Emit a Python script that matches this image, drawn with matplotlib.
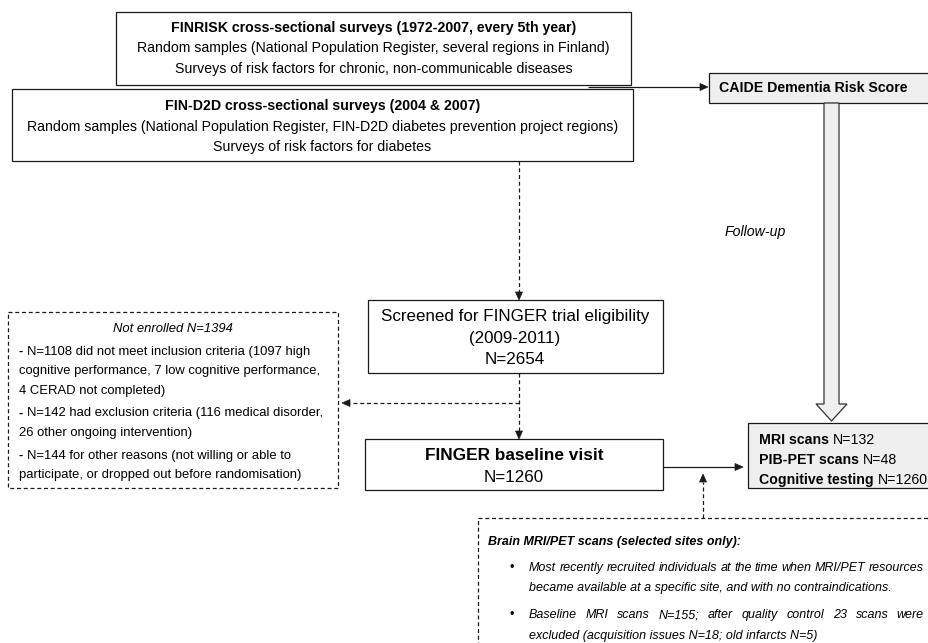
import matplotlib
matplotlib.use("Agg")
import matplotlib.pyplot as plt
from matplotlib.patches import Rectangle, Polygon

plt.rcParams['font.family'] = ['Liberation Sans', 'DejaVu Sans']

# ---------------- chart content ----------------
finrisk_title = "FINRISK cross-sectional surveys (1972-2007, every 5th year)"
finrisk_lines = ["Random samples (National Population Register, several regions in Finland)",
                 "Surveys of risk factors for chronic, non-communicable diseases"]
find2d_title = "FIN-D2D cross-sectional surveys (2004 & 2007)"
find2d_lines = ["Random samples (National Population Register, FIN-D2D diabetes prevention project regions)",
                "Surveys of risk factors for diabetes"]
caide_label = "CAIDE Dementia Risk Score"
followup_label = "Follow-up"
screened_lines = ["Screened for FINGER trial eligibility", "(2009-2011)", "N=2654"]
baseline_title = "FINGER baseline visit"
baseline_n = "N=1260"
not_enrolled_title = "Not enrolled N=1394"
not_enrolled_items = [
    ["N=1108 did not meet inclusion criteria (1097 high",
     "cognitive performance, 7 low cognitive performance,",
     "4 CERAD not completed)"],
    ["N=142 had exclusion criteria (116 medical disorder,",
     "26 other ongoing intervention)"],
    ["N=144 for other reasons (not willing or able to",
     "participate, or dropped out before randomisation)"],
]
outcome_labels = ["MRI scans", "PIB-PET scans", "Cognitive testing"]
outcome_n = [132, 48, 1260]
brain_title = "Brain MRI/PET scans (selected sites only):"
brain_items = [
    ["Most recently recruited individuals at the time when MRI/PET resources",
     "became available at a specific site, and with no contraindications."],
    ["Baseline MRI scans N=155; after quality control 23 scans were",
     "excluded (acquisition issues N=18; old infarcts N=5)"],
]

# ---------------- canvas (1 data unit = 1 pixel) ----------------
W, H = 929, 643
fig = plt.figure(figsize=(W / 100, H / 100), dpi=100)
ax = fig.add_axes([0, 0, 1, 1])
ax.set_xlim(0, W)
ax.set_ylim(H, 0)
ax.axis('off')
R = fig.canvas.get_renderer()

EDGE = '#1a1a1a'
FILL = '#efefef'
DASH = (0, (3.2, 2.2))
LW = 0.9


def width(t):
    return t.get_window_extent(renderer=R).width


def fit(strings, targets, **kw):
    if isinstance(strings, str):
        strings, targets = [strings], [targets]
    tot = 0
    for s in strings:
        t = ax.text(0, 0, s, fontsize=10, **kw)
        tot += width(t)
        t.remove()
    return 10 * sum(targets) / tot


def space(size, **kw):
    a = ax.text(0, 0, "x x", fontsize=size, **kw)
    b = ax.text(0, 0, "xx", fontsize=size, **kw)
    w = width(a) - width(b)
    a.remove(); b.remove()
    return w


def box(x0, y0, x1, y1, dashed=False, fill='white'):
    ax.add_patch(Rectangle((x0, y0), x1 - x0, y1 - y0, facecolor=fill,
                           edgecolor=EDGE, lw=LW,
                           linestyle=DASH if dashed else '-', zorder=2))


def line(xs, ys, dashed=False):
    ax.plot(xs, ys, color=EDGE, lw=LW, linestyle=DASH if dashed else '-',
            zorder=3, solid_capstyle='butt')


def head(x, y, d, L=8, Wd=7):
    if d == 'r':
        pts = [(x, y), (x - L, y - Wd / 2), (x - L, y + Wd / 2)]
    elif d == 'l':
        pts = [(x, y), (x + L, y - Wd / 2), (x + L, y + Wd / 2)]
    elif d == 'd':
        pts = [(x, y), (x - Wd / 2, y - L), (x + Wd / 2, y - L)]
    else:
        pts = [(x, y), (x - Wd / 2, y + L), (x + Wd / 2, y + L)]
    ax.add_patch(Polygon(pts, closed=True, facecolor=EDGE, edgecolor=EDGE,
                         lw=0.5, zorder=4))


def T(x, y, s, size, ha='center', **kw):
    return ax.text(x, y, s, ha=ha, va='center', fontsize=size, zorder=5, **kw)


def seq(x, y, parts, size):
    for s, kw in parts:
        if s == ' ':
            x += space(size, **kw)
            continue
        t = T(x, y, s, size, ha='left', **kw)
        x += width(t)


def justify(x0, x1, y, s, size, **kw):
    words = s.split()
    ts = [T(0, y, w, size, ha='left', **kw) for w in words]
    ws = [width(t) for t in ts]
    gap = (x1 - x0 - sum(ws)) / (len(words) - 1)
    x = x0
    for t, w in zip(ts, ws):
        t.set_x(x)
        x += w + gap


# font sizes calibrated to reference text widths
fs_main = fit(find2d_lines[0], 589)
fs_scr = fit(screened_lines[0], 269)
fs_base = fit(baseline_title, 178, weight='bold')
_ne_lines = ["- " + not_enrolled_items[0][0], not_enrolled_items[0][1], not_enrolled_items[0][2],
             "- " + not_enrolled_items[1][0], not_enrolled_items[1][1],
             "- " + not_enrolled_items[2][0], not_enrolled_items[2][1]]
fs_ne = fit(_ne_lines, [309, 298, 144, 303, 171, 269, 277])
fs_br = fit([brain_items[0][1], brain_items[1][1]], [351, 299], style='italic')
fs_caide = fit(caide_label, 188, weight='bold')
fs_out = fit("Cognitive testing N=1260", 168, weight='bold')

# ---------------- top boxes ----------------
box(116, 12, 631, 85)
cx = (116 + 631) / 2
T(cx, 28, finrisk_title, fs_main, weight='bold')
for i, s in enumerate(finrisk_lines):
    T(cx, 48 + 20.5 * i, s, fs_main)

box(12, 89, 633, 161)
cx = (12 + 633) / 2
T(cx, 106, find2d_title, fs_main, weight='bold')
for i, s in enumerate(find2d_lines):
    T(cx, 127 + 20.5 * i, s, fs_main)

# arrow to CAIDE
line([588, 701], [87, 87])
head(708, 87, 'r')
box(709, 73, 940, 103, fill=FILL)
T(719, 88, caide_label, fs_caide, ha='left', weight='bold')

# hollow follow-up arrow
ax.add_patch(Polygon([(824, 103), (839, 103), (839, 404), (847, 404),
                      (831.5, 421), (816, 404), (824, 404)], closed=True,
                     facecolor=FILL, edgecolor='#333333', lw=LW, zorder=2))
T(725, 232, followup_label, fs_main, ha='left', style='italic')

# ---------------- screening ----------------
XA = 519
line([XA, XA], [161, 292], dashed=True)
head(XA, 300, 'd')
box(368, 300, 663, 373)
for i, s in enumerate(screened_lines):
    T(515, 317 + 21 * i, s, fs_scr)

line([XA, XA], [373, 431], dashed=True)
head(XA, 439, 'd')
line([XA, 350], [403, 403], dashed=True)
head(342, 403, 'l')

box(365, 439, 663, 490)
T(514, 455, baseline_title, fs_base, weight='bold')
T(514, 477, baseline_n, fs_scr)

# ---------------- not enrolled ----------------
box(8, 312, 338, 488, dashed=True)
T(173, 329, not_enrolled_title, fs_ne, style='italic')
y = 352
for item in not_enrolled_items:
    for j, s in enumerate(item):
        if j == 0:
            seq(19, y, [("-", dict(weight='bold')), (' ', {}), (s, {})], fs_ne)
        else:
            T(19, y, s, fs_ne, ha='left')
        y += 19.3
    y += 3.5

# ---------------- outcomes ----------------
line([663, 735], [467, 467])
head(743, 467, 'r')
box(748, 423, 940, 488, fill=FILL)
for i, (lab, n) in enumerate(zip(outcome_labels, outcome_n)):
    seq(759, 440 + 20 * i, [(lab, dict(weight='bold')), (' ', {}), (f"N={n}", {})], fs_out)

# ---------------- brain MRI/PET ----------------
line([703, 703], [518, 482], dashed=True)
head(703, 474, 'u')
box(478, 518, 940, 660, dashed=True)
T(488, 542, brain_title, fs_br, ha='left', weight='bold', style='italic')
yb = [568, 615]
for item, y0 in zip(brain_items, yb):
    T(512, y0, "\u2022", fs_br)
    justify(529, 924, y0, item[0], fs_br, style='italic')
    T(529, y0 + 20.5, item[1], fs_br, ha='left', style='italic')

fig.savefig("out.png", dpi=100)
